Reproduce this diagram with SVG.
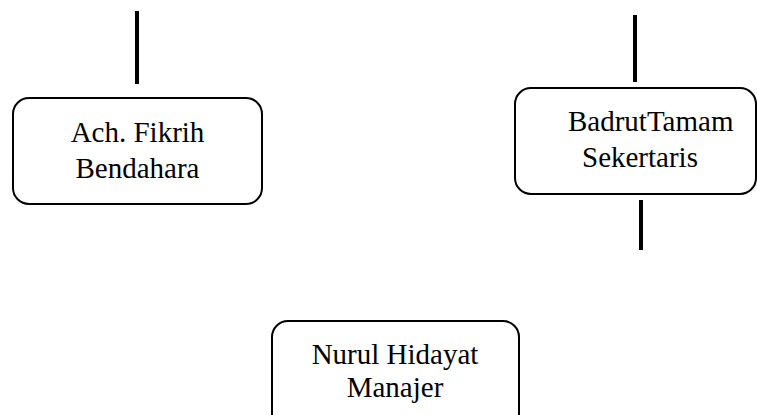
<svg xmlns="http://www.w3.org/2000/svg" width="757" height="415" viewBox="0 0 757 415">
<style>
.box{fill:#fff;stroke:#000;stroke-width:2}
.ln{stroke:#000;stroke-width:4;fill:none}
text{font-family:"Liberation Serif","Times New Roman",serif;font-size:29px;fill:#000}
</style>
<rect width="757" height="415" fill="#fff"/>
<g id="connectors">
<line class="ln" x1="137" y1="11" x2="137" y2="84"/>
<line class="ln" x1="635" y1="15" x2="635" y2="82"/>
<line class="ln" x1="641" y1="200" x2="641" y2="250"/>
</g>
<g id="bendahara">
<rect class="box" x="13" y="98" width="249" height="106" rx="16"/>
<text x="137.5" y="142" text-anchor="middle">Ach. Fikrih</text>
<text x="137.5" y="178" text-anchor="middle">Bendahara</text>
</g>
<g id="sekertaris">
<rect class="box" x="515" y="88" width="241" height="106" rx="16"/>
<text x="568" y="131">BadrutTamam</text>
<text x="582" y="167">Sekertaris</text>
</g>
<g id="manajer">
<rect class="box" x="272" y="321" width="247" height="110" rx="16"/>
<text x="395" y="364" text-anchor="middle">Nurul Hidayat</text>
<text x="395" y="397" text-anchor="middle">Manajer</text>
</g>
</svg>
